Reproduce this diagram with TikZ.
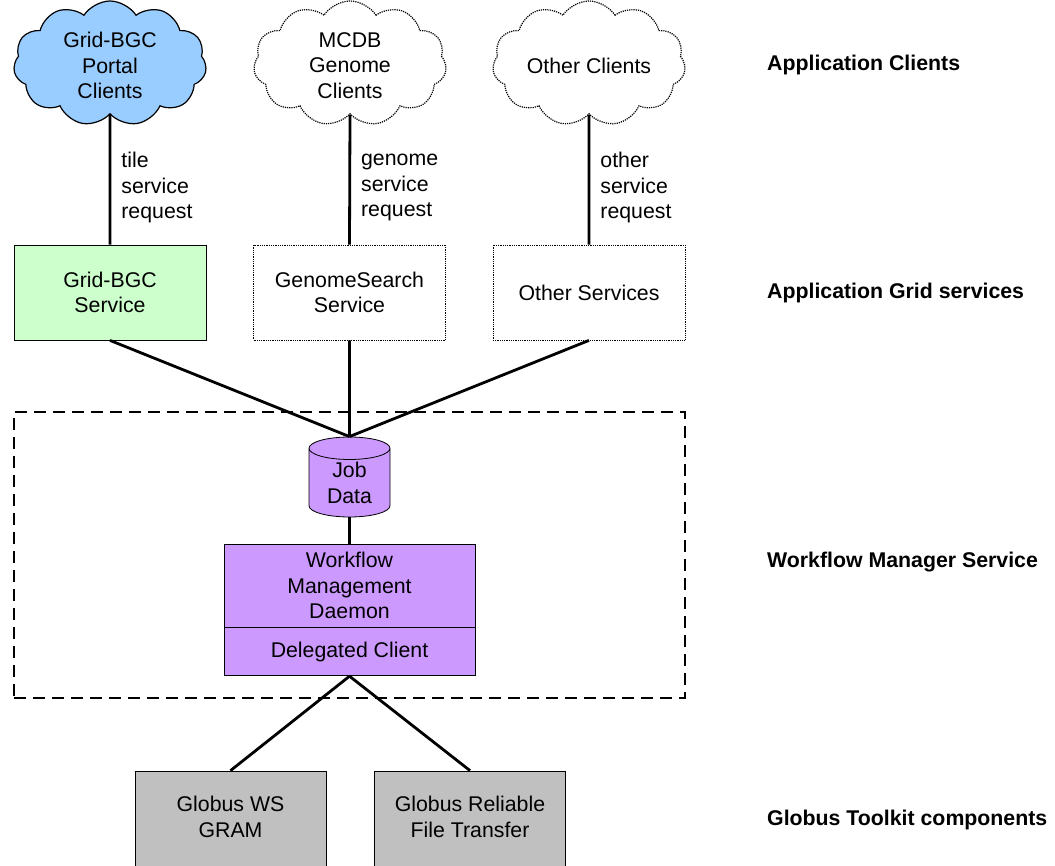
\documentclass[tikz,border=0pt]{standalone}
\usepackage{fontspec}
\setmainfont{Liberation Sans}
\usetikzlibrary{shapes.symbols,shapes.geometric,positioning}
\definecolor{portalblue}{HTML}{99CCFF}
\definecolor{servicegreen}{HTML}{CCFFCC}
\definecolor{wfpurple}{HTML}{CC99FF}
\definecolor{globusgray}{HTML}{C0C0C0}

\begin{document}
\begin{tikzpicture}[x=1pt,y=-1pt]
        \tikzstyle{every node}=[font=\fontsize{21.3}{25.5}\selectfont, align=center, inner sep=0pt]
        \tikzstyle{client}=[cloud, cloud puffs=11, cloud puff arc=115, minimum width=193, minimum height=125, draw, line width=1.2pt]
        \tikzstyle{guest}=[densely dotted]
        \tikzstyle{svc}=[rectangle, draw, line width=0.8pt, minimum width=192, minimum height=95]
        \tikzstyle{globus}=[rectangle, draw, line width=0.8pt, fill=globusgray, minimum width=191, minimum height=100]
        \tikzstyle{link}=[line width=2.8pt]
        \tikzstyle{tier}=[anchor=west, font=\fontsize{21.3}{25.5}\selectfont\bfseries]
        \useasboundingbox (0,0) rectangle (1055,866);
        \clip (0,0) rectangle (1055,866);
        \node[draw, dashed, line width=1.2pt, dash pattern=on 12pt off 7pt, minimum width=671, minimum height=286] (wmsbox) at (349.5,555) {};
        \node[client, fill=portalblue, label={[yshift=-2pt]center:Grid-BGC\\Portal\\Clients}] (portal) at (110,63.5) {};
        \node[client, guest, label={[yshift=-2pt]center:MCDB\\Genome\\Clients}] (genome) at (350,63.5) {};
        \node[client, guest, label={[yshift=-2pt]center:Other Clients}] (others) at (589,63.5) {};
        \node[svc, fill=servicegreen] (bgcsvc) at (110,292.5) {Grid-BGC\\Service};
        \node[svc, guest] (searchsvc) at (349.5,292.5) {GenomeSearch\\Service};
        \node[svc, guest] (othersvc) at (589,292.5) {Other Services};
        \node[cylinder, shape border rotate=90, aspect=0.5, draw, line width=0.8pt, fill=wfpurple, minimum width=81, minimum height=80, anchor=shape center] (jobdata) at (349.5,477) {Job\\Data};
        \node[draw, line width=0.8pt, fill=wfpurple, minimum width=251, minimum height=83] (daemon) at (349.5,585.5) {Workflow\\Management\\Daemon};
        \node[draw, line width=0.8pt, fill=wfpurple, minimum width=251, minimum height=48, below=0pt of daemon] (delegated) {Delegated Client};
        \node[globus, label={[yshift=4pt]center:Globus WS\\GRAM}] (gram) at (230.5,821) {};
        \node[globus, label={[yshift=4pt]center:Globus Reliable\\File Transfer}] (rft) at (470,821) {};
        \draw[link] (portal.south) -- (bgcsvc.north) node[midway, right=10pt, yshift=-8pt, align=left] {tile\\service\\request};
        \draw[link] (genome.south) -- (searchsvc.north) node[midway, right=10pt, yshift=-8pt, align=left] {genome\\service\\request};
        \draw[link] (others.south) -- (othersvc.north) node[midway, right=10pt, yshift=-8pt, align=left] {other\\service\\request};
        \draw[link] (bgcsvc.south) -- (jobdata.north);
        \draw[link] (searchsvc.south) -- (jobdata.north);
        \draw[link] (othersvc.south) -- (jobdata.north);
        \draw[link] (jobdata.south) -- (daemon.north);
        \draw[link] (delegated.south) -- (gram.north);
        \draw[link] (delegated.south) -- (rft.north);
        \node[tier] (clientstier) at (767,65) {Application Clients};
        \node[tier] (servicestier) at (767,293) {Application Grid services};
        \node[tier] (managertier) at (767,562) {Workflow Manager Service};
        \node[tier] (toolkittier) at (767,820) {Globus Toolkit components};
    \end{tikzpicture}
\end{document}
